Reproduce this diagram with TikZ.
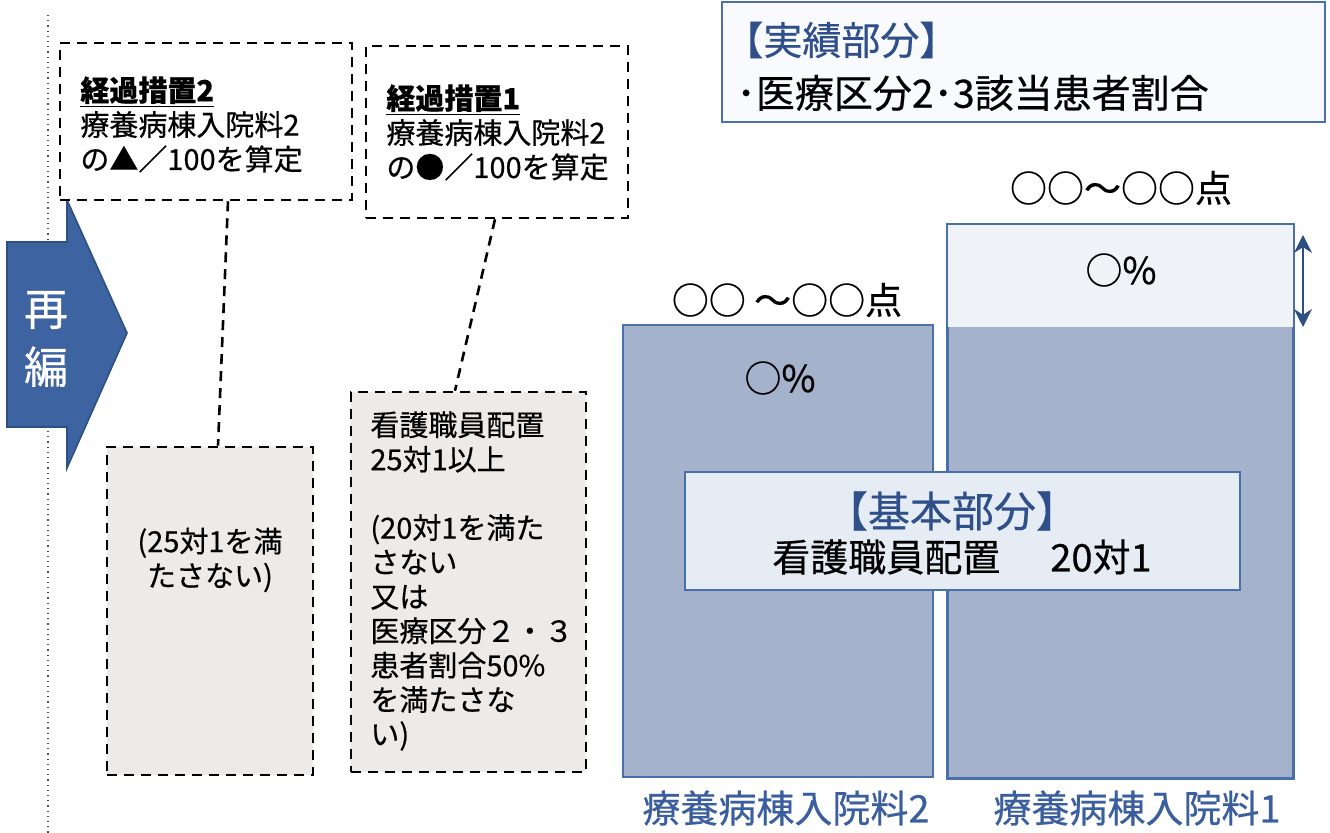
\documentclass[tikz,border=0pt]{standalone}
\usepackage{fontspec}
\setmainfont{Noto Sans CJK JP}[FakeBold=0.5]
\usetikzlibrary{arrows.meta}
\definecolor{barfill}{HTML}{A5B2CB}
\definecolor{barline}{HTML}{4A70AC}
\definecolor{topfill}{HTML}{EFF2F7}
\definecolor{basefill}{HTML}{E6ECF4}
\definecolor{bluetext}{HTML}{2F4F8A}
\definecolor{lbltext}{HTML}{3A5E9E}
\definecolor{arrowfill}{HTML}{3D64A0}
\definecolor{arrowline}{HTML}{2E4F82}
\definecolor{grayfill}{HTML}{ECEBE9}
\definecolor{toprfill}{HTML}{F8FAFD}
\begin{document}
\begin{tikzpicture}[x=0.5pt,y=-0.5pt,
  dbox/.style={draw=black, line width=1.3pt, dash pattern=on 5pt off 3.5pt, inner sep=0pt},
  conn/.style={draw=black, line width=1.3pt, dash pattern=on 5pt off 3.5pt},
  bar/.style={draw=barline, line width=1pt, fill=barfill, inner sep=0pt},
  txt/.style={inner sep=0pt, font=\fontsize{14.5pt}{17.2pt}\selectfont, align=left},
  lbl/.style={inner sep=0pt, font=\fontsize{18.5pt}{22pt}\selectfont},
  btm/.style={inner sep=0pt, font=\fontsize{19pt}{22pt}\selectfont, text=lbltext},
  plain/.style={inner sep=0pt}
]
\useasboundingbox (0,0) rectangle (1330,833);
% dotted separator
\coordinate (vt) at (48,15);
\coordinate (vb) at (48,833);
\draw[dotted, line width=0.6pt, gray!60!black] (vt) -- (vb);

% re-organisation arrow
\path[fill=arrowfill, draw=arrowline, line width=0.8pt]
  (7,242) -- (67,242) -- (67,200) -- (127,333) -- (67,468) -- (67,427) -- (7,427) -- cycle;
\node[plain, font=\fontsize{22pt}{29pt}\selectfont, text=white, align=center] (saihen) at (46,339) {再\\編};

% dashed boxes
\node[dbox, fill=white, minimum width=146pt, minimum height=78.5pt] (b2) at (206,121.5) {};
\node[dbox, fill=white, minimum width=131pt, minimum height=86pt] (b1) at (497,132) {};
\node[dbox, fill=grayfill, minimum width=103pt, minimum height=164pt] (g2) at (210,611) {};
\node[dbox, fill=grayfill, minimum width=117.5pt, minimum height=190pt] (g1) at (468.5,582) {};

\draw[conn] ([xshift=11pt]b2.south) -- ([xshift=4pt]g2.north);
\draw[conn] ([xshift=-1pt]b1.south) -- ([xshift=-6.75pt]g1.north);

\node[txt, anchor=north west] (t2) at (80,76) {\underline{\textbf{経過措置2}}\\療養病棟入院料2\\の▲／100を算定};
\node[txt, anchor=north west] (t1) at (386,84) {\underline{\textbf{経過措置1}}\\療養病棟入院料2\\の●／100を算定};
\node[txt, align=center] (gt2) at (210,560) {(25対1を満\\たさない)};
\node[txt, anchor=north west] (gt1) at (370,411) {看護職員配置\\25対1以上\\[17pt](20対1を満た\\さない\\又は\\医療区分２・３\\患者割合50\%\\を満たさな\\い)};

% bars
\node[bar, minimum width=155pt, minimum height=226pt] (bar2) at (778,551) {};
\node[bar, minimum width=172.5pt, minimum height=276.5pt] (bar1) at (1120.5,501.5) {};
\fill[topfill] (bar1.north west) rectangle ([yshift=-51.5pt]bar1.north east);
\draw[barline, line width=1pt] (bar1.north west) rectangle (bar1.south east);

\coordinate (da1) at (1303,235);
\coordinate (da2) at (1303,327);
\draw[{Stealth[length=9pt,width=9pt]}-{Stealth[length=9pt,width=9pt]}, line width=1pt, arrowline] (da1) -- (da2);

\node[lbl] (p2) at (787,300) {○○ ～○○点};
\node[lbl] (p1) at (1121,188) {○○～○○点};
\node[lbl] (q2) at (780,378) {○\%};
\node[lbl] (q1) at (1121,270) {○\%};

% base part
\node[draw=barline, line width=1pt, fill=basefill, minimum width=277.5pt, minimum height=59pt, inner sep=0pt] (base) at (962.5,531) {};
\node[plain, font=\fontsize{21pt}{24pt}\selectfont, text=bluetext] (kihon) at (952,511) {【基本部分】};
\node[plain, font=\fontsize{19pt}{23pt}\selectfont] (haichi) at (962,557) {看護職員配置\hspace{25pt}20対1};

% bottom labels
\node[btm] (n2) at (786,808) {療養病棟入院料2};
\node[btm] (n1) at (1137,808) {療養病棟入院料1};

% top-right box
\node[draw=barline, line width=1pt, fill=toprfill, minimum width=301.5pt, minimum height=60pt, inner sep=0pt] (jisseki) at (1023.5,62) {};
\node[plain, anchor=west, font=\fontsize{19.5pt}{22pt}\selectfont, text=bluetext] (jt) at (724,40) {【実績部分】};
\node[plain, anchor=west, font=\fontsize{19.5pt}{22pt}\selectfont] (jt2) at (736,93) {･医療区分2･3該当患者割合};
\end{tikzpicture}
\end{document}
